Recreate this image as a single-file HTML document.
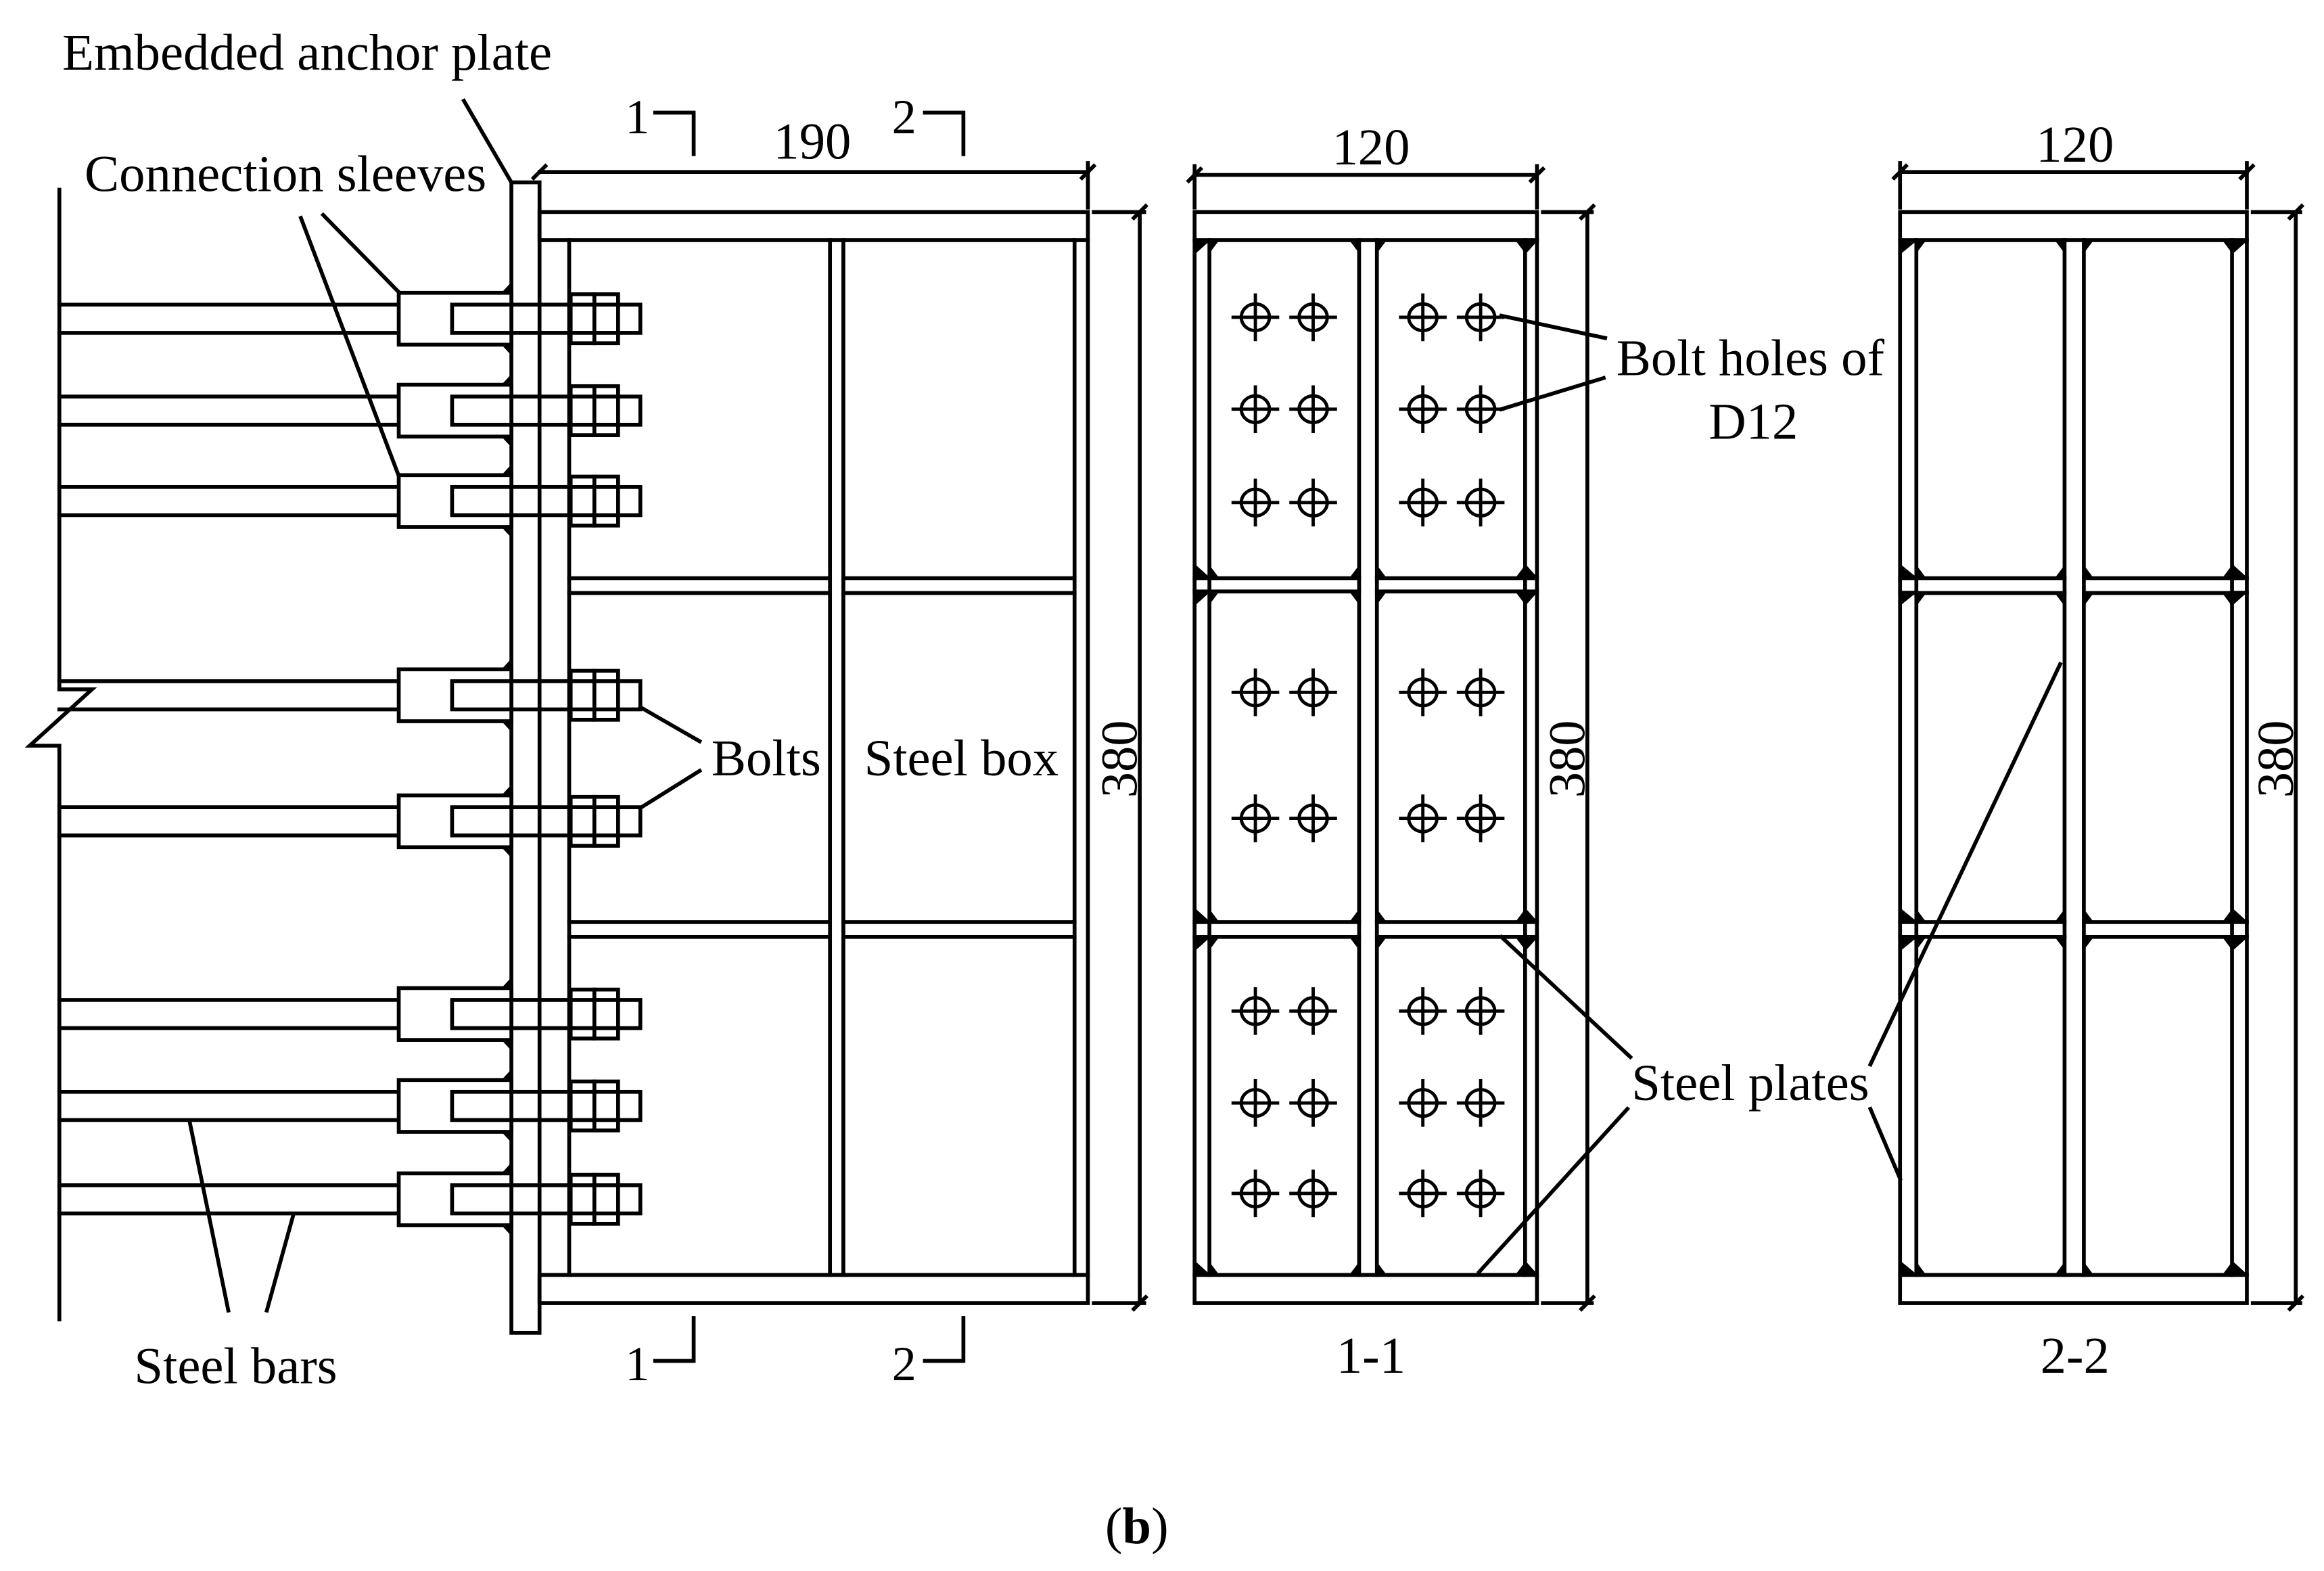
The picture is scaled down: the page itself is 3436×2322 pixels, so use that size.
<!DOCTYPE html>
<html><head><meta charset="utf-8"><style>
html,body{margin:0;padding:0;background:#fff;}
svg{display:block;}
text{font-family:"Liberation Serif",serif;fill:#000;}
</style></head><body>
<svg id="s" width="3436" height="2322" viewBox="0 0 1568 1059.7" xmlns="http://www.w3.org/2000/svg">
<g id="g" stroke="#000" stroke-width="2.6" fill="none" stroke-linecap="square">
<polyline points="40,128 40,465 62,465 20,503 40,503 40,890"/>
<rect x="345" y="123" width="19" height="776" fill="#fff"/>
<rect x="364" y="143" width="370" height="19"/>
<rect x="364" y="860" width="370" height="19"/>
<line x1="384" y1="162" x2="384" y2="860"/>
<line x1="560" y1="162" x2="560" y2="860"/>
<line x1="569" y1="162" x2="569" y2="860"/>
<line x1="725" y1="162" x2="725" y2="860"/>
<line x1="734" y1="162" x2="734" y2="860"/>
<line x1="384" y1="390" x2="560" y2="390"/><line x1="384" y1="400" x2="560" y2="400"/>
<line x1="569" y1="390" x2="725" y2="390"/><line x1="569" y1="400" x2="725" y2="400"/>
<line x1="384" y1="622" x2="560" y2="622"/><line x1="384" y1="632" x2="560" y2="632"/>
<line x1="569" y1="622" x2="725" y2="622"/><line x1="569" y1="632" x2="725" y2="632"/>
<line x1="364" y1="116" x2="734" y2="116"/>
<line x1="734" y1="110" x2="734" y2="140"/>
<line x1="769" y1="143" x2="769" y2="879"/>
<line x1="738" y1="143" x2="772" y2="143"/>
<line x1="738" y1="879" x2="772" y2="879"/>
<polyline points="442,76 468,76 468,104"/>
<polyline points="624,76 650,76 650,104"/>
<polyline points="468,889 468,918 442,918"/>
<polyline points="650,889 650,918 624,918"/>
<line x1="313" y1="68" x2="345" y2="123"/>
<line x1="218" y1="145" x2="269" y2="197"/>
<line x1="203" y1="147" x2="269" y2="321"/>
<line x1="432" y1="477" x2="472" y2="500"/>
<line x1="432" y1="545" x2="472" y2="520"/>
<line x1="128" y1="757" x2="154" y2="884"/>
<line x1="198" y1="819" x2="180" y2="884"/>
<rect x="806" y="143" width="231" height="19"/>
<rect x="806" y="860" width="231" height="19"/>
<line x1="806" y1="162" x2="806" y2="860"/><line x1="816" y1="162" x2="816" y2="860"/>
<line x1="917" y1="162" x2="917" y2="860"/><line x1="929" y1="162" x2="929" y2="860"/>
<line x1="1029" y1="162" x2="1029" y2="860"/><line x1="1037" y1="162" x2="1037" y2="860"/>
<line x1="806" y1="118" x2="1037" y2="118"/>
<line x1="806" y1="112" x2="806" y2="140"/><line x1="1037" y1="112" x2="1037" y2="140"/>
<line x1="1071" y1="143" x2="1071" y2="879"/>
<line x1="1041" y1="143" x2="1074" y2="143"/><line x1="1041" y1="879" x2="1074" y2="879"/>
<line x1="1013" y1="213" x2="1083" y2="228"/>
<line x1="1013" y1="276" x2="1082" y2="255"/>
<line x1="1013" y1="632" x2="1100" y2="713"/>
<line x1="998" y1="858" x2="1098" y2="748"/>
<line x1="1390" y1="448" x2="1262" y2="718"/>
<line x1="1262" y1="748" x2="1282" y2="795"/>
<rect x="1282" y="143" width="234" height="19"/>
<rect x="1282" y="860" width="234" height="19"/>
<line x1="1282" y1="162" x2="1282" y2="860"/><line x1="1293" y1="162" x2="1293" y2="860"/>
<line x1="1393" y1="162" x2="1393" y2="860"/><line x1="1406" y1="162" x2="1406" y2="860"/>
<line x1="1506" y1="162" x2="1506" y2="860"/><line x1="1516" y1="162" x2="1516" y2="860"/>
<line x1="1282" y1="116" x2="1516" y2="116"/>
<line x1="1282" y1="110" x2="1282" y2="140"/><line x1="1516" y1="110" x2="1516" y2="140"/>
<line x1="1549" y1="143" x2="1549" y2="879"/>
<line x1="1520" y1="143" x2="1552" y2="143"/><line x1="1520" y1="879" x2="1552" y2="879"/>
</g>
<text x="42" y="47" font-size="35">Embedded anchor plate</text>
<text x="57" y="129" font-size="35">Connection sleeves</text>
<text x="480" y="523" font-size="35">Bolts</text>
<text x="583" y="523" font-size="35">Steel box</text>
<text x="548" y="107" font-size="35" text-anchor="middle">190</text>
<text x="430" y="90" font-size="33" text-anchor="middle">1</text>
<text x="610" y="90" font-size="33" text-anchor="middle">2</text>
<text x="430" y="931" font-size="33" text-anchor="middle">1</text>
<text x="610" y="931" font-size="33" text-anchor="middle">2</text>
<text x="159" y="933" font-size="35" text-anchor="middle">Steel bars</text>
<text x="925" y="111" font-size="35" text-anchor="middle">120</text>
<text x="1400" y="109" font-size="35" text-anchor="middle">120</text>
<text x="1181" y="253" font-size="35" text-anchor="middle">Bolt holes of</text>
<text x="1183" y="296" font-size="35" text-anchor="middle">D12</text>
<text x="1181" y="742" font-size="35" text-anchor="middle">Steel plates</text>
<text x="925" y="926" font-size="35" text-anchor="middle">1-1</text>
<text x="1400" y="926" font-size="35" text-anchor="middle">2-2</text>
<text transform="translate(767,512) rotate(-90)" font-size="35" text-anchor="middle">380</text>
<text transform="translate(1069,512) rotate(-90)" font-size="35" text-anchor="middle">380</text>
<text transform="translate(1547,512) rotate(-90)" font-size="35" text-anchor="middle">380</text>
<text x="767" y="1041" font-size="35" text-anchor="middle">(<tspan font-weight="bold">b</tspan>)</text>
</svg>
<script>
var g=document.getElementById('g'),NS='http://www.w3.org/2000/svg';
function el(t,a){var e=document.createElementNS(NS,t);for(var k in a)e.setAttribute(k,a[k]);g.appendChild(e);return e;}
[215,277,338,469,554,684,746,809].forEach(function(c){
 el('line',{x1:40,y1:c-9.5,x2:269,y2:c-9.5});el('line',{x1:40,y1:c+9.5,x2:269,y2:c+9.5});
 el('rect',{x:269,y:c-17.5,width:76,height:35,fill:'#fff'});
 el('rect',{x:385,y:c-16.5,width:32,height:33,fill:'#fff'});
 el('line',{x1:401,y1:c-16.5,x2:401,y2:c+16.5});
 el('rect',{x:305,y:c-9.5,width:127,height:19});
 el('polygon',{points:'345,'+(c-24)+' 345,'+(c-17.5)+' 339,'+(c-17.5),fill:'#000','stroke-width':1});
 el('polygon',{points:'345,'+(c+24)+' 345,'+(c+17.5)+' 339,'+(c+17.5),fill:'#000','stroke-width':1});
});
function hole(x,y){
 el('ellipse',{cx:x,cy:y,rx:9.5,ry:9,'stroke-width':2.2});
 el('line',{x1:x-15,y1:y,x2:x+15,y2:y,'stroke-width':2.2});
 el('line',{x1:x,y1:y-15,x2:x,y2:y+15,'stroke-width':2.2});
}
[214,276,339,467,552,682,744,805].forEach(function(y){[847,886,960,999].forEach(function(x){hole(x,y);});});
function welds(xs,cells){
 cells.forEach(function(r){
  xs.forEach(function(p){
   var L=p[0],R=p[1];
   [[L,r[0],1,1],[R,r[0],-1,1],[L,r[1],1,-1],[R,r[1],-1,-1]].forEach(function(q){
    var x=q[0],y=q[1],dx=q[2],dy=q[3];
    el('polygon',{points:x+','+y+' '+(x+dx*6)+','+y+' '+x+','+(y+dy*8),fill:'#000','stroke-width':1});
   });
  });
 });
}
welds([[816,917],[929,1029]],[[162,390],[399,622],[632,860]]);
welds([[1293,1393],[1406,1506]],[[162,390],[400,622],[632,860]]);
[[806,816],[1029,1037],[1282,1293],[1506,1516]].forEach(function(p){
 [162,390,399,622,632,860].forEach(function(y,i){
  var dy=(i%2==0)?1:-1;
  el('polygon',{points:p[0]+','+y+' '+p[1]+','+y+' '+p[0]+','+(y+dy*9),fill:'#000','stroke-width':1});
 });
});
[[806,917],[929,1037]].forEach(function(p){[390,399,622,632].forEach(function(y){el('line',{x1:p[0],y1:y,x2:p[1],y2:y});});});
[[1282,1393],[1406,1516]].forEach(function(p){[390,400,622,632].forEach(function(y){el('line',{x1:p[0],y1:y,x2:p[1],y2:y});});});
[[364,116],[734,116],[806,118],[1037,118],[1282,116],[1516,116],[769,143],[769,879],[1071,143],[1071,879],[1549,143],[1549,879]].forEach(function(t){
 el('line',{x1:t[0]-4,y1:t[1]+4,x2:t[0]+4,y2:t[1]-4,'stroke-width':2.6});
});
</script>
</body></html>
